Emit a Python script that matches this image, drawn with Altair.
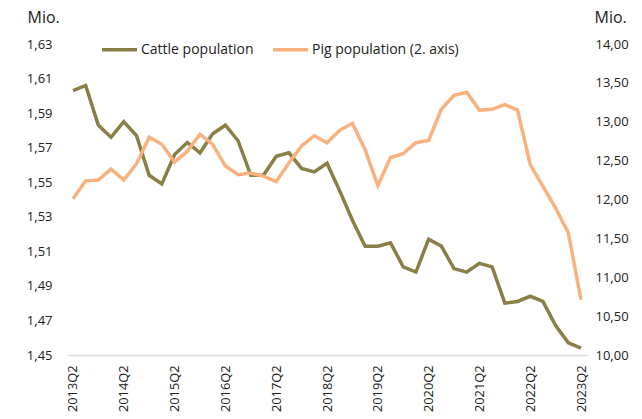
import altair as alt
import pandas as pd

quarters = [f"{y}Q{q}" for y in range(2013, 2024) for q in range(1, 5)]
quarters = quarters[1:42]  # 2013Q2 .. 2023Q2

cattle = [1.603, 1.606, 1.583, 1.576, 1.585, 1.577, 1.554, 1.549, 1.566, 1.573,
          1.567, 1.578, 1.583, 1.574, 1.554, 1.554, 1.565, 1.567, 1.558, 1.556,
          1.561, 1.545, 1.528, 1.513, 1.513, 1.515, 1.501, 1.498, 1.517, 1.513,
          1.500, 1.498, 1.503, 1.501, 1.480, 1.481, 1.484, 1.481, 1.467, 1.457,
          1.454]

pig = [12.01, 12.24, 12.25, 12.39, 12.25, 12.46, 12.80, 12.71, 12.48, 12.62,
       12.84, 12.71, 12.43, 12.32, 12.34, 12.30, 12.23, 12.47, 12.69, 12.82,
       12.73, 12.89, 12.98, 12.64, 12.18, 12.54, 12.59, 12.73, 12.76, 13.16,
       13.34, 13.38, 13.15, 13.16, 13.22, 13.15, 12.45, 12.17, 11.89, 11.57,
       10.71]

series_names = ["Cattle population", "Pig population (2. axis)"]
series_colors = ["#8a7f47", "#f8b27f"]

df_c = pd.DataFrame({"quarter": quarters, "value": cattle, "series": series_names[0]})
df_p = pd.DataFrame({"quarter": quarters, "value": pig, "series": series_names[1]})

FONT = "Open Sans"
TXT = "#222222"

x_enc = alt.X(
    "quarter:O",
    sort=quarters,
    scale=alt.Scale(type="point", padding=0.47),
    axis=alt.Axis(
        values=quarters[::4], labelAngle=-90, title=None, ticks=False,
        domainColor="#dddddd", domainWidth=1.5, labelPadding=10,
        labelFontSize=12.8, labelColor=TXT, labelFont=FONT,
    ),
)

color_enc = alt.Color(
    "series:N",
    scale=alt.Scale(domain=series_names, range=series_colors),
    legend=alt.Legend(
        orient="none", legendX=33, legendY=-14, direction="horizontal",
        title=None, symbolType="stroke", symbolSize=1225, symbolStrokeWidth=3.5,
        labelFontSize=14, labelFont=FONT, labelColor=TXT, labelOffset=2,
        columnPadding=12, padding=0,
    ),
)

left = alt.Chart(df_c).mark_line(strokeWidth=3.5).encode(
    x=x_enc,
    y=alt.Y(
        "value:Q",
        scale=alt.Scale(domain=[1.45, 1.63], nice=False, zero=False),
        axis=alt.Axis(
            values=[1.45, 1.47, 1.49, 1.51, 1.53, 1.55, 1.57, 1.59, 1.61, 1.63],
            labelExpr="replace(format(datum.value, '.2f'), '.', ',')",
            domain=False, ticks=False, grid=False, labelPadding=15,
            labelFontSize=13, labelFont=FONT, labelColor=TXT,
            title="Mio.", titleAngle=0, titleX=-40, titleY=-22,
            titleAlign="left", titleBaseline="alphabetic",
            titleFontSize=16, titleFontWeight="normal", titleFont=FONT, titleColor=TXT,
        ),
    ),
    color=color_enc,
)

right = alt.Chart(df_p).mark_line(strokeWidth=3.5).encode(
    x=x_enc,
    y=alt.Y(
        "value:Q",
        scale=alt.Scale(domain=[10, 14], nice=False, zero=False),
        axis=alt.Axis(
            orient="right",
            values=[10, 10.5, 11, 11.5, 12, 12.5, 13, 13.5, 14],
            labelExpr="replace(format(datum.value, '.2f'), '.', ',')",
            domain=False, ticks=False, grid=False, labelPadding=8,
            labelFontSize=13, labelFont=FONT, labelColor=TXT,
            title="Mio.", titleAngle=0, titleX=7, titleY=-22,
            titleAlign="left", titleBaseline="alphabetic",
            titleFontSize=16, titleFontWeight="normal", titleFont=FONT, titleColor=TXT,
        ),
    ),
    color=color_enc,
)

chart = (
    alt.layer(left, right)
    .resolve_scale(y="independent")
    .properties(
        width=520, height=311,
        autosize=alt.AutoSizeParams(type="none"),
        padding={"left": 67, "top": 44, "right": 55, "bottom": 64},
        background="white",
    )
    .configure_view(stroke=None)
)

chart.save("out.html", embed_options={"renderer": "svg", "actions": False})
